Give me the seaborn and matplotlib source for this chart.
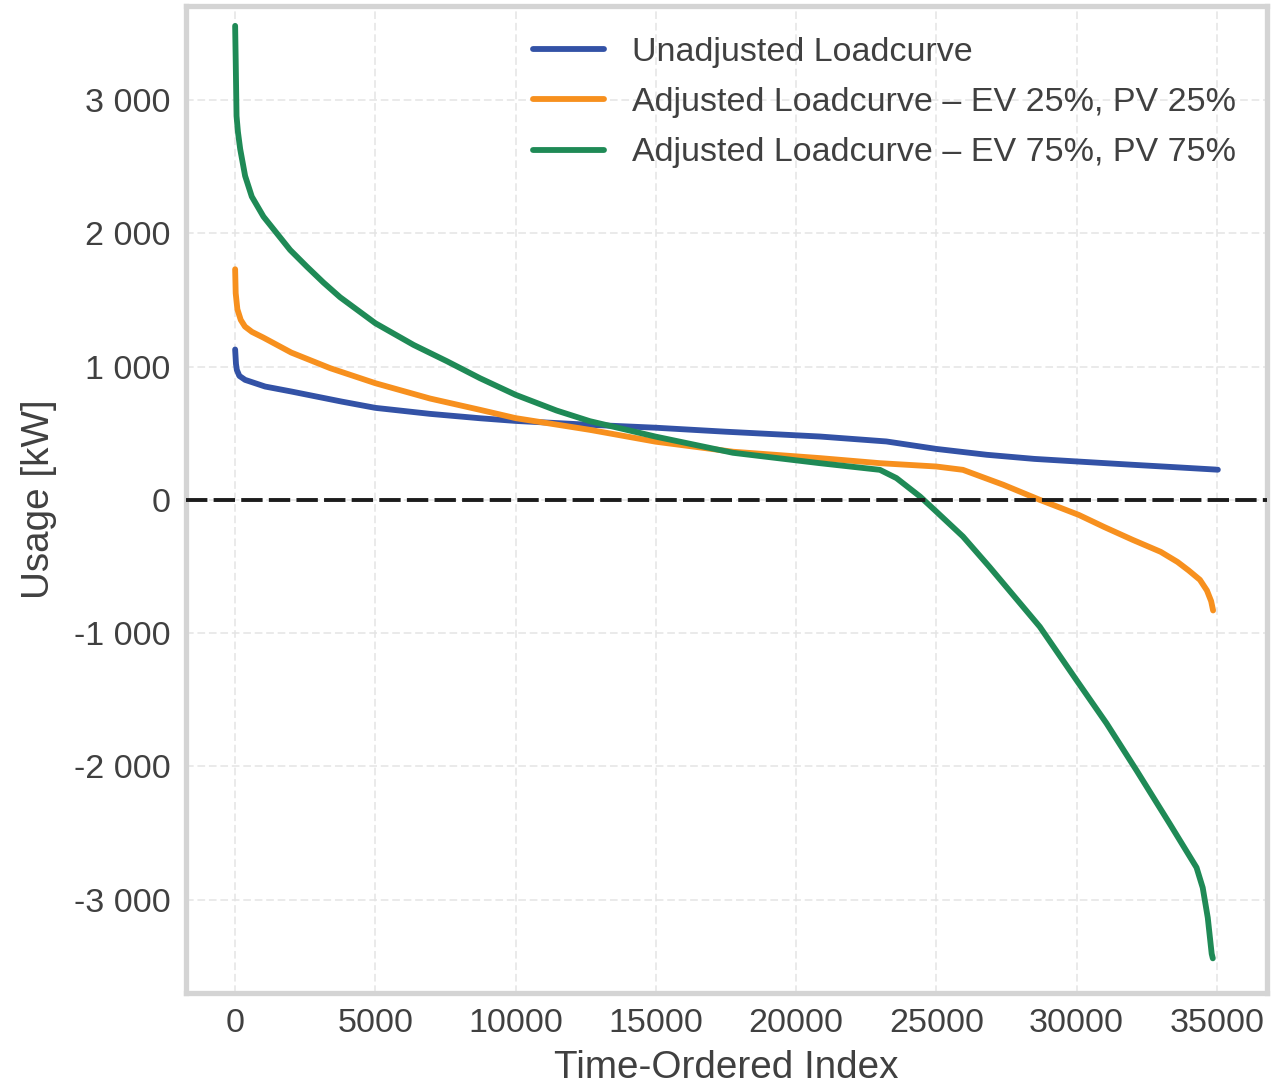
import numpy as np
import pandas as pd
import matplotlib
matplotlib.use("Agg")
import matplotlib.pyplot as plt
from matplotlib.ticker import FuncFormatter
import seaborn as sns

# ---- data ----
unadj_x = [0, 30, 60, 150, 356, 1070, 2020, 3800, 5000, 6950, 8735, 10000, 12650, 15000,
           17500, 20850, 23220, 25000, 26800, 28500, 30080, 32000, 33500, 35040]
unadj_y = [1128, 1020, 975, 930, 900, 850, 812, 737, 690, 645, 612, 592, 563, 541,
           511, 475, 438, 382, 338, 307, 287, 263, 245, 226]

ev25_x = [0, 20, 80, 200, 350, 600, 1000, 2000, 3386, 5000, 6950, 8735, 10000, 12650,
          15000, 17750, 20850, 22990, 25000, 25950, 27390, 28690, 30080, 31000, 32000,
          33000, 33600, 34000, 34400, 34650, 34800, 34870]
ev25_y = [1730, 1550, 1430, 1350, 1300, 1260, 1218, 1105, 988, 875, 760, 675, 613, 525,
          436, 361, 313, 275, 250, 225, 113, 0, -113, -205, -300,
          -390, -466, -530, -600, -680, -760, -830]

ev75_x = [0, 20, 50, 100, 180, 356, 594, 1010, 1485, 1960, 2555, 3150, 3742, 5000,
          6365, 7550, 8735, 10000, 11460, 12650, 15000, 17750, 20850, 22990, 23580,
          24420, 25000, 25950, 26900, 28690, 30000, 31070, 32140, 33320, 34280, 34500,
          34680, 34820, 34860]
ev75_y = [3556, 3300, 2880, 2760, 2632, 2430, 2275, 2125, 2000, 1875, 1750, 1630, 1520, 1325,
          1162, 1040, 912, 788, 670, 590, 474, 353, 275, 225, 163,
          25, -88, -275, -504, -952, -1353, -1677, -2030, -2429, -2759, -2910,
          -3135, -3406, -3440]

labels = ["Unadjusted Loadcurve",
          "Adjusted Loadcurve \u2013 EV 25%, PV 25%",
          "Adjusted Loadcurve \u2013 EV 75%, PV 75%"]
colors = ["#3352a6", "#f7901e", "#1f8a56"]

x_ticks = [0, 5000, 10000, 15000, 20000, 25000, 30000, 35000]
y_ticks = [-3000, -2000, -1000, 0, 1000, 2000, 3000]

df = pd.concat([
    pd.DataFrame({"idx": unadj_x, "usage": unadj_y, "series": labels[0]}),
    pd.DataFrame({"idx": ev25_x, "usage": ev25_y, "series": labels[1]}),
    pd.DataFrame({"idx": ev75_x, "usage": ev75_y, "series": labels[2]}),
], ignore_index=True)

# ---- style ----
sns.set_theme(style="whitegrid")
plt.rcParams["font.family"] = ["Liberation Sans", "DejaVu Sans"]
txt = "#404040"

fig, ax = plt.subplots(figsize=(12.71, 10.88), dpi=100)
fig.subplots_adjust(left=186/1271, right=1267/1271, top=1-6/1088, bottom=1-993/1088)

sns.lineplot(data=df, x="idx", y="usage", hue="series", hue_order=labels,
             palette=dict(zip(labels, colors)), linewidth=4.2, sort=False,
             estimator=None, ax=ax)

ax.axhline(0, color="#1c1c1c", linewidth=2.8, linestyle="--", dashes=(5.5, 1.6), zorder=5)

ax.set_xlim(-1752, 36792)
ax.set_ylim(-3700, 3705)
ax.set_xticks(x_ticks)
ax.set_yticks(y_ticks)
ax.yaxis.set_major_formatter(FuncFormatter(lambda v, p: f"{v:,.0f}".replace(",", " ")))

ax.grid(True, linestyle=(0, (5, 2.5)), color="#e4e4e4", linewidth=1.1)
for s in ax.spines.values():
    s.set_visible(True)
    s.set_color("#d4d4d4")
    s.set_linewidth(3.8)

ax.tick_params(axis="both", labelsize=24.5, colors=txt, length=0, pad=11)
ax.set_xlabel("Time-Ordered Index", fontsize=27.8, color=txt, labelpad=8)
ax.set_ylabel("Usage [kW]", fontsize=27.8, color=txt, labelpad=12)

leg = ax.legend(loc="upper right", frameon=False, fontsize=24.5, handlelength=2.1,
                handletextpad=0.82, labelspacing=0.57, borderaxespad=0.5)
for t in leg.get_texts():
    t.set_color(txt)

fig.savefig("out.png", dpi=100)
